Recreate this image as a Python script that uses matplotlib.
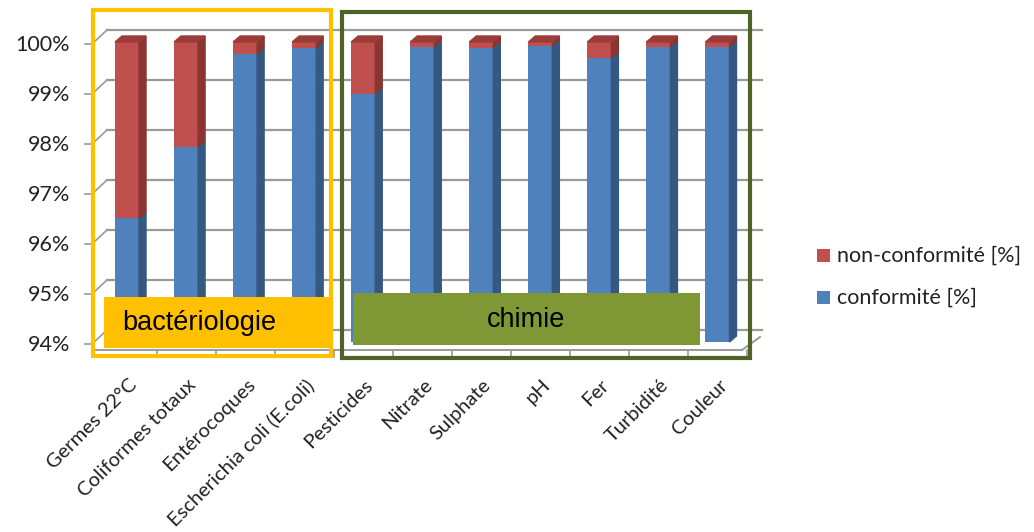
import matplotlib
matplotlib.use("Agg")
import matplotlib.pyplot as plt
from matplotlib.patches import Polygon, Rectangle
from matplotlib.transforms import offset_copy

categories = ["Germes 22°C", "Coliformes totaux", "Entérocoques",
              "Escherichia coli (E.coli)", "Pesticides", "Nitrate", "Sulphate",
              "pH", "Fer", "Turbidité", "Couleur"]
conformite = [96.48, 97.90, 99.76, 99.89, 98.97, 99.91, 99.89, 99.93, 99.68, 99.91, 99.91]
non_conformite = [100 - c for c in conformite]
yticks = [94, 95, 96, 97, 98, 99, 100]
ytick_labels = ["94%", "95%", "96%", "97%", "98%", "99%", "100%"]
legend_labels = ["non-conformité [%]", "conformité [%]"]
group_labels = ["bactériologie", "chimie"]

W, H = 1034, 532
fig = plt.figure(figsize=(W / 100, H / 100), dpi=100)

# main axes: pixel box x 92..747, y 42 (100%) .. 342 (94%)
L, R, T, B = 92, 747, 42, 342
ax = fig.add_axes([L / W, (H - B) / H, (R - L) / W, (B - T) / H])
ax.set_xlim(-0.593, 10.5)
ax.set_ylim(94, 100)
ax.axis("off")

BLUE, BLUE_SIDE = "#4F81BD", "#34587F"
RED, RED_SIDE, RED_TOP = "#C0504D", "#8A3532", "#9C3C39"
GRID = "#9A9A9A"

px_x = (10.5 + 0.593) / (R - L)
px_y = 6.0 / (B - T)
w = 24 * px_x
dx, dy = 7 * px_x, 6 * px_y

def off(x, y):
    return offset_copy(ax.transData, fig=fig, x=x, y=y, units="dots")

# back wall gridlines + left diagonals
back = off(15, 12)
front = off(0, -2)
for v in yticks:
    ax.plot([-0.593, 10.5], [v, v], color=GRID, lw=1.6, transform=back, clip_on=False, zorder=1)
    ax.plot([-0.593 - 7 * px_x, -0.593], [v, v], color=GRID, lw=1.2, transform=front,
            clip_on=False, zorder=1)
    ax.plot([-0.593, -0.593 + 15 * px_x], [v, v + 14 * px_y], color=GRID, lw=1.2,
            transform=front, clip_on=False, zorder=1)

# floor
fl = off(0, -8)
ax.plot([-0.593 + 3 * px_x, 10.5 - 5 * px_x], [94, 94], color=GRID, lw=1.4, transform=fl, clip_on=False, zorder=1)
ax.plot([10.5 - 5 * px_x, 10.5 + 13 * px_x], [94, 94 + 13 * px_y], color=GRID, lw=1.4, transform=fl, clip_on=False, zorder=1)
for k in range(len(categories)):
    xb = k + 0.5
    ax.plot([xb, xb], [94, 94 - 7 * px_y], color=GRID, lw=1.2, transform=fl, clip_on=False, zorder=1)

# bars
xs = list(range(len(categories)))
ax.bar(xs, [c - 94 for c in conformite], bottom=94, width=w, color=BLUE, zorder=3, clip_on=False)
ax.bar(xs, non_conformite, bottom=conformite, width=w, color=RED, zorder=3, clip_on=False)
for i, c in enumerate(conformite):
    xr = i + w / 2
    ax.add_patch(Polygon([(xr, 94), (xr + dx, 94 + dy), (xr + dx, c + dy), (xr, c)],
                         closed=True, color=BLUE_SIDE, zorder=3, clip_on=False))
    ax.add_patch(Polygon([(xr, c), (xr + dx, c + dy), (xr + dx, 100 + dy), (xr, 100)],
                         closed=True, color=RED_SIDE, zorder=3, clip_on=False))
    ax.add_patch(Polygon([(i - w / 2, 100), (xr, 100), (xr + dx, 100 + dy), (i - w / 2 + dx, 100 + dy)],
                         closed=True, color=RED_TOP, zorder=3, clip_on=False))

# y tick labels
for v, lab in zip(yticks, ytick_labels):
    ax.text(-0.593 - 22 * px_x, v - 3 * px_y, lab, ha="right", va="center", fontsize=15.5,
            family=["Lato", "DejaVu Sans"], color="#222222", clip_on=False)

# x tick labels
for i, lab in enumerate(categories):
    ax.text(i + 1 * px_x, 94 - 34 * px_y, lab, rotation=45, rotation_mode="anchor",
            ha="right", va="top", fontsize=14.5, family=["Lato", "DejaVu Sans"],
            color="#222222", clip_on=False)

# overlay for boxes and legend in pixel coordinates
ov = fig.add_axes([0, 0, 1, 1], zorder=5)
ov.set_xlim(0, W)
ov.set_ylim(H, 0)
ov.axis("off")
ov.patch.set_alpha(0)

ov.add_patch(Rectangle((93, 10), 238, 346, fill=False, ec="#FFC000", lw=3.0))
ov.add_patch(Rectangle((342, 12), 408, 346, fill=False, ec="#4F6228", lw=3.0))
ov.add_patch(Rectangle((104, 297), 226, 51, fc="#FFC000", ec="none"))
ov.add_patch(Rectangle((353, 293), 347, 52, fc="#7F9734", ec="none"))
ov.text(122, 323, group_labels[0], ha="left", va="center", fontsize=19.5,
        family="Liberation Sans", color="black")
ov.text(526, 320, group_labels[1], ha="center", va="center", fontsize=19.5,
        family="Liberation Sans", color="black")

# legend
for (lab, col, yy) in [(legend_labels[0], RED, 255.5), (legend_labels[1], BLUE, 297.5)]:
    ov.add_patch(Rectangle((817, yy - 6.5), 13, 13, fc=col, ec="none"))
    ov.text(837, yy, lab, ha="left", va="center", fontsize=15.5,
            family=["Lato", "DejaVu Sans"], color="#222222")

fig.savefig("out.png", dpi=100, facecolor="white")
